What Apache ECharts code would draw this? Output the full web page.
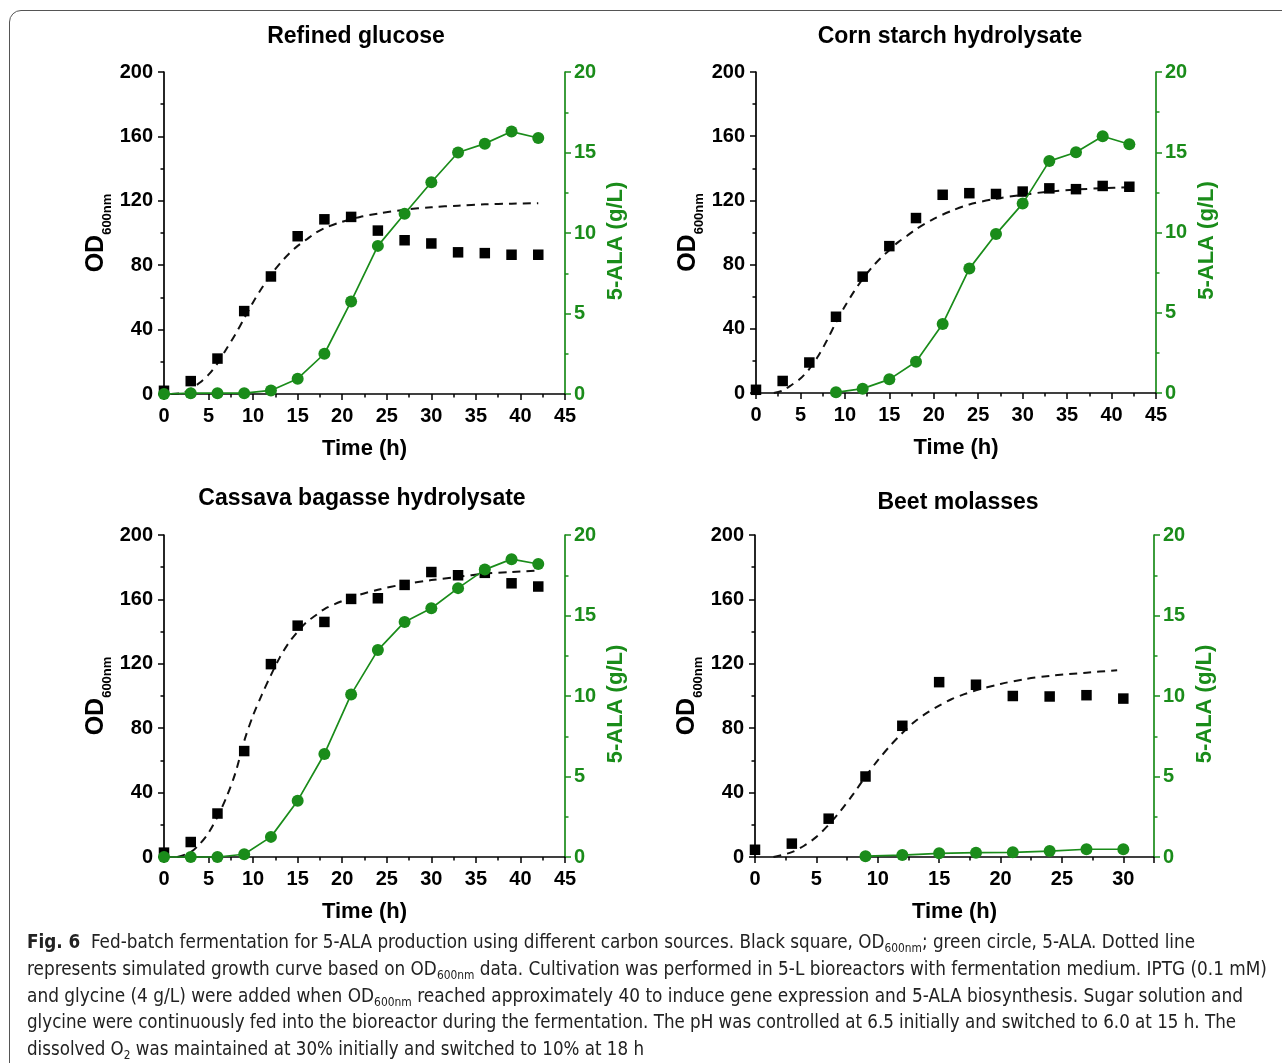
<!DOCTYPE html>
<html>
<head>
<meta charset="utf-8">
<script src="https://cdn.jsdelivr.net/npm/echarts@6/dist/echarts.min.js"></script>
<style>
  html, body { margin: 0; padding: 0; background: #fff; }
  #frame { position: absolute; left: 9px; top: 10px; width: 1320px; height: 1120px;
           border: 1.3px solid #555; border-radius: 12px; box-sizing: border-box; }
  #chart { position: absolute; left: 0; top: 0; width: 1282px; height: 1063px; }
  .ln { position: absolute; left: 27px; white-space: nowrap; transform-origin: 0 50%;
        font-family: "Liberation Sans Narrow", "DejaVu Sans Condensed", "Noto Sans", sans-serif;
        font-size: 19px; line-height: 26px; color: #222; }
  .ln sub { font-size: 12px; vertical-align: -4px; line-height: 0; }
</style>
</head>
<body>
<div id="frame"></div>
<div id="chart"></div>
<div id="caption">
  <div class="ln" data-w="1168" style="top:928px"><b>Fig. 6</b>&nbsp; Fed-batch fermentation for 5-ALA production using different carbon sources. Black square, OD<sub>600nm</sub>; green circle, 5-ALA. Dotted line</div>
  <div class="ln" data-w="1240" style="top:955px">represents simulated growth curve based on OD<sub>600nm</sub> data. Cultivation was performed in 5-L bioreactors with fermentation medium. IPTG (0.1 mM)</div>
  <div class="ln" data-w="1216" style="top:982px">and glycine (4 g/L) were added when OD<sub>600nm</sub> reached approximately 40 to induce gene expression and 5-ALA biosynthesis. Sugar solution and</div>
  <div class="ln" data-w="1209" style="top:1008px">glycine were continuously fed into the bioreactor during the fermentation. The pH was controlled at 6.5 initially and switched to 6.0 at 15 h. The</div>
  <div class="ln" data-w="617" style="top:1035px">dissolved O<sub>2</sub> was maintained at 30% initially and switched to 10% at 18 h</div>
</div>
<script>
// ---------------- data ----------------
const panelTitles = ['Refined glucose', 'Corn starch hydrolysate', 'Cassava bagasse hydrolysate', 'Beet molasses'];

const odTime = [0, 3, 6, 9, 12, 15, 18, 21, 24, 27, 30, 33, 36, 39, 42];
const beetOdTime = [0, 3, 6, 9, 12, 15, 18, 21, 24, 27, 30];

// Refined glucose
const glucoseOD = [2, 8, 22, 51.5, 73, 98, 108.5, 110, 101.5, 95.5, 93.5, 88, 87.5, 86.5, 86.5];
const glucoseAlaTime = [0, 3, 6, 9, 12, 15, 18, 21, 24, 27, 30, 33, 36, 39, 42];
const glucoseALA = [0, 0.05, 0.05, 0.05, 0.22, 0.95, 2.5, 5.75, 9.2, 11.2, 13.15, 15.0, 15.55, 16.3, 15.9];
const glucoseFitTime = [0.8, 2, 3, 4, 5, 6, 7, 8, 9, 10, 11, 12, 13, 14, 15, 16, 17, 18, 20, 22, 24, 27, 30, 33, 36, 39, 42];
const glucoseFit = [0, 0.5, 3, 7, 12, 19, 28, 37, 47, 57, 66, 74, 81, 87, 92, 96, 100, 103, 107, 110, 112, 114.5, 116, 117, 117.8, 118.2, 118.5];

// Corn starch hydrolysate
const cornOD = [2, 7.5, 19, 47.5, 72.5, 91.5, 109, 123.5, 124.5, 124, 125.5, 127.5, 127, 129, 128.5];
const cornAlaTime = [9, 12, 15, 18, 21, 24, 27, 30, 33, 36, 39, 42];
const cornALA = [0.04, 0.27, 0.85, 1.95, 4.3, 7.75, 9.9, 11.8, 14.45, 15.0, 16.0, 15.5];
const cornFitTime = [2, 3, 4, 5, 6, 7, 8, 9, 10, 11, 12, 13, 14, 15, 16, 17, 18, 20, 22, 24, 27, 30, 33, 36, 39, 42];
const cornFit = [0, 1.5, 5, 9, 15, 23, 33, 44, 54, 63, 71, 78, 84, 89, 94, 98, 102, 108.5, 113.5, 117.5, 121, 123.5, 125.5, 126.8, 127.6, 128.2];

// Cassava bagasse hydrolysate
const cassavaOD = [2.7, 9.3, 27, 65.8, 119.8, 143.7, 146, 160.3, 160.7, 169, 177, 175, 176.5, 170, 168];
const cassavaAlaTime = [0, 3, 6, 9, 12, 15, 18, 21, 24, 27, 30, 33, 36, 39, 42];
const cassavaALA = [0, 0, 0, 0.17, 1.25, 3.5, 6.4, 10.1, 12.85, 14.6, 15.45, 16.7, 17.85, 18.5, 18.2];
const cassavaFitTime = [1.5, 3, 4, 5, 6, 7, 8, 9, 10, 11, 12, 13, 14, 15, 16, 17, 18, 20, 22, 24, 27, 30, 33, 36, 39, 42];
const cassavaFit = [0, 3, 8, 15, 25, 37, 52, 72, 88, 101, 113, 124, 133, 140, 146, 150, 154, 159, 163, 166, 169.5, 172, 174, 176, 177, 178];

// Beet molasses
const beetOD = [4.5, 8.3, 23.8, 50, 81.5, 108.6, 107, 100, 99.7, 100.5, 98.4];
const beetAlaTime = [9, 12, 15, 18, 21, 24, 27, 30];
const beetALA = [0.05, 0.12, 0.23, 0.27, 0.29, 0.37, 0.48, 0.48];
const beetFitTime = [1.5, 3, 4, 5, 6, 7, 8, 9, 10, 11, 12, 13, 14, 15, 16, 17, 18, 20, 22, 24, 27, 29.5];
const beetFit = [0, 3, 7, 12.5, 20, 29, 39, 50, 60, 69, 77, 84, 89.5, 94, 98, 101, 103.5, 107.5, 110.5, 112.5, 114.5, 116];

const xTicks = [0, 5, 10, 15, 20, 25, 30, 35, 40, 45];
const odTicks = [0, 40, 80, 120, 160, 200];
const alaTicks = [0, 5, 10, 15, 20];

// ---------------- layout ----------------
const FONT = '"Liberation Sans", Arial, Helvetica, sans-serif';
const GREEN = '#1a8c1a';
const BLACK = '#000';

const panels = [
  { title: panelTitles[0], tx: 356, ty: 37, grid: { left: 164, top: 72, width: 401, height: 322 }, xMax: 45,
    odT: odTime, od: glucoseOD, fitT: glucoseFitTime, fit: glucoseFit, alaT: glucoseAlaTime, ala: glucoseALA },
  { title: panelTitles[1], tx: 950, ty: 37, grid: { left: 756, top: 72, width: 400, height: 321 }, xMax: 45,
    odT: odTime, od: cornOD, fitT: cornFitTime, fit: cornFit, alaT: cornAlaTime, ala: cornALA },
  { title: panelTitles[2], tx: 362, ty: 499, grid: { left: 164, top: 535, width: 401, height: 322 }, xMax: 45,
    odT: odTime, od: cassavaOD, fitT: cassavaFitTime, fit: cassavaFit, alaT: cassavaAlaTime, ala: cassavaALA },
  { title: panelTitles[3], tx: 958, ty: 503, grid: { left: 755, top: 535, width: 399, height: 322 }, xMax: 32.5,
    odT: beetOdTime, od: beetOD, fitT: beetFitTime, fit: beetFit, alaT: beetAlaTime, ala: beetALA }
];

const zip = (a, b) => a.map((v, i) => [v, b[i]]);

const grids = [], xAxes = [], yAxes = [], series = [], graphics = [];

panels.forEach((p, i) => {
  grids.push(Object.assign({ containLabel: false }, p.grid));
  graphics.push({
    type: 'text', x: p.tx, y: p.ty,
    style: { text: p.title, fill: BLACK, font: 'bold 23px ' + FONT, align: 'center', verticalAlign: 'middle' }
  });
  xAxes.push({
    type: 'value', gridIndex: i, min: xTicks[0], max: p.xMax, interval: xTicks[1] - xTicks[0],
    name: 'Time (h)', nameLocation: 'middle', nameGap: 44,
    nameTextStyle: { color: BLACK, fontSize: 22, fontWeight: 'bold', fontFamily: FONT },
    axisLine: { show: true, onZero: false, lineStyle: { color: BLACK, width: 1.7 } },
    axisTick: { show: true, inside: false, length: 6, lineStyle: { color: BLACK, width: 1.5 } },
    minorTick: { show: true, splitNumber: 2, length: 3.5, lineStyle: { color: BLACK, width: 1.5 } },
    axisLabel: { show: true, color: BLACK, fontSize: 20, fontWeight: 'bold', fontFamily: FONT, margin: 12,
                 showMaxLabel: p.xMax === xTicks[xTicks.length - 1], hideOverlap: false },
    splitLine: { show: false }, minorSplitLine: { show: false }
  });
  yAxes.push({
    type: 'value', gridIndex: i, position: 'left', min: odTicks[0], max: odTicks[odTicks.length - 1],
    interval: odTicks[1] - odTicks[0],
    name: '{a|OD}{b|600nm}', nameLocation: 'middle', nameRotate: 90, nameGap: 50,
    nameTextStyle: {
      rich: {
        a: { fontSize: 25, fontWeight: 'bold', color: BLACK, fontFamily: FONT, lineHeight: 30, verticalAlign: 'top' },
        b: { fontSize: 13, fontWeight: 'bold', color: BLACK, fontFamily: FONT, lineHeight: 13, verticalAlign: 'bottom' }
      }
    },
    axisLine: { show: true, onZero: false, lineStyle: { color: BLACK, width: 1.7 } },
    axisTick: { show: true, inside: false, length: 6, lineStyle: { color: BLACK, width: 1.5 } },
    minorTick: { show: true, splitNumber: 2, length: 3.5, lineStyle: { color: BLACK, width: 1.5 } },
    axisLabel: { show: true, color: BLACK, fontSize: 20, fontWeight: 'bold', fontFamily: FONT, margin: 11 },
    splitLine: { show: false }, minorSplitLine: { show: false }
  });
  yAxes.push({
    type: 'value', gridIndex: i, position: 'right', min: alaTicks[0], max: alaTicks[alaTicks.length - 1],
    interval: alaTicks[1] - alaTicks[0],
    name: '5-ALA (g/L)', nameLocation: 'middle', nameRotate: 90, nameGap: 40,
    nameTextStyle: { color: GREEN, fontSize: 22, fontWeight: 'bold', fontFamily: FONT, padding: [0, 16, 0, 0] },
    axisLine: { show: true, onZero: false, lineStyle: { color: GREEN, width: 1.7 } },
    axisTick: { show: true, inside: false, length: 6, lineStyle: { color: GREEN, width: 1.5 } },
    minorTick: { show: true, splitNumber: 2, length: 3.5, lineStyle: { color: GREEN, width: 1.5 } },
    axisLabel: { show: true, color: GREEN, fontSize: 20, fontWeight: 'bold', fontFamily: FONT, margin: 9 },
    splitLine: { show: false }, minorSplitLine: { show: false }
  });
  series.push({
    type: 'line', xAxisIndex: i, yAxisIndex: 2 * i, data: zip(p.fitT, p.fit),
    smooth: 0.3, showSymbol: false, symbol: 'none', silent: true, z: 2,
    lineStyle: { color: '#111', width: 2, type: [8, 6] }
  });
  series.push({
    type: 'scatter', xAxisIndex: i, yAxisIndex: 2 * i, data: zip(p.odT, p.od),
    symbol: 'rect', symbolSize: 10.5, itemStyle: { color: BLACK, opacity: 1 }, z: 3, clip: false
  });
  series.push({
    type: 'line', xAxisIndex: i, yAxisIndex: 2 * i + 1, data: zip(p.alaT, p.ala),
    symbol: 'circle', symbolSize: 12, showSymbol: true, z: 4, clip: false,
    lineStyle: { color: GREEN, width: 1.7 }, itemStyle: { color: GREEN, borderWidth: 0, opacity: 1 }
  });
});

const chart = echarts.init(document.getElementById('chart'), null, { renderer: 'canvas' });
chart.setOption({
  animation: false,
  backgroundColor: 'transparent',
  grid: grids,
  xAxis: xAxes,
  yAxis: yAxes,
  series: series,
  graphic: graphics
});

// fit caption lines to the reference line widths
document.querySelectorAll('.ln').forEach(el => {
  const w = el.getBoundingClientRect().width;
  const target = parseFloat(el.dataset.w);
  if (w > 0) el.style.transform = 'scaleX(' + (target / w).toFixed(4) + ')';
});
</script>
</body>
</html>
